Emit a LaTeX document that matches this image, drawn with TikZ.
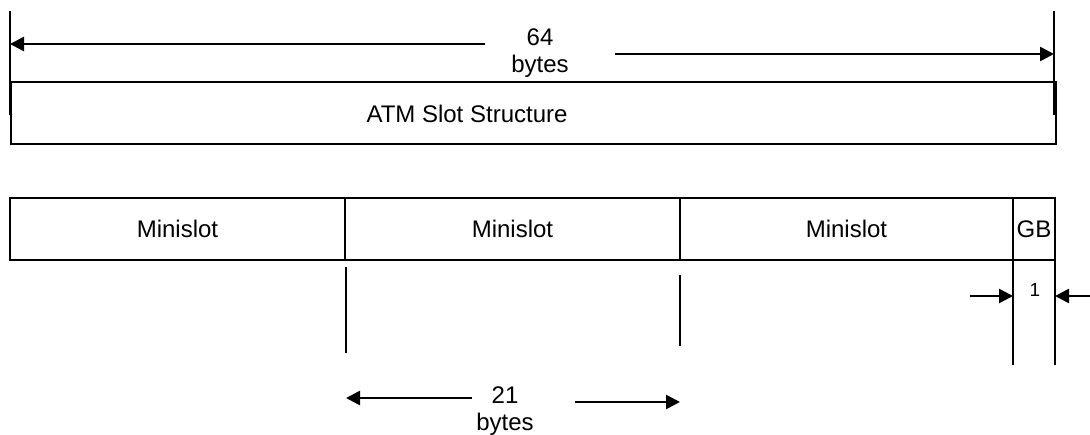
\documentclass[tikz,border=0pt]{standalone}
\usepackage{fontspec}
\setmainfont{Liberation Sans}
\usetikzlibrary{arrows.meta}

\begin{document}
\begin{tikzpicture}[
    x=1pt, y=-1pt,
    line width=2.6pt,
    font=\fontsize{24}{27}\selectfont,
    slotbox/.style={draw, minimum height=62pt, inner sep=0pt, outer sep=0pt},
    dimarrow/.style={-{Triangle[length=14pt, width=14pt]}},
    lbl/.style={inner sep=0pt, align=center}
  ]

  \useasboundingbox (0,0) rectangle (1090,434);

  % --------------------------------------------------------------------
  % ATM slot (64 bytes)
  % --------------------------------------------------------------------

  \coordinate (atmtl) at (10,11);
  \coordinate (atmbl) at (10,115);
  \coordinate (atmtr) at (1054,11);
  \coordinate (atmbr) at (1054,115);
  \draw (atmtl) -- (atmbl);
  \draw (atmtr) -- (atmbr);

  \draw (11,82) rectangle (1056,144);
  \node[lbl] (atm) at (467,114) {ATM Slot Structure};

  \node[lbl] (n64) at (540,53) {64\\bytes};
  \coordinate (a64l) at (485,44);
  \coordinate (a64r) at (615,54);
  \draw[dimarrow] (a64l) -- (a64l -| atmtl);
  \draw[dimarrow] (a64r) -- (a64r -| atmtr);

  % --------------------------------------------------------------------
  % Minislots and guard band
  % --------------------------------------------------------------------

  \node[slotbox, minimum width=335pt] (ms1) at (177.5,229) {Minislot};
  \node[slotbox, minimum width=335pt] (ms2) at (512.5,229) {Minislot};
  \node[slotbox, minimum width=333pt] (ms3) at (846.5,229) {Minislot};
  \node[slotbox, minimum width=42pt] (gb) at (1034,229) {GB};

  % --------------------------------------------------------------------
  % 21 bytes
  % --------------------------------------------------------------------

  \coordinate (m2l) at (346,267);
  \coordinate (m2lb) at (346,353);
  \coordinate (m2r) at (680,275);
  \coordinate (m2rb) at (680,346);
  \draw (m2l) -- (m2lb);
  \draw (m2r) -- (m2rb);

  \node[lbl] (n21) at (505,411) {21\\bytes};
  \coordinate (a21l) at (472,398);
  \coordinate (a21r) at (575,402);
  \draw[dimarrow] (a21l) -- (a21l -| m2l);
  \draw[dimarrow] (a21r) -- (a21r -| m2r);

  % --------------------------------------------------------------------
  % 1 byte (GB)
  % --------------------------------------------------------------------

  \coordinate (gbl) at (1013,365);
  \coordinate (gbr) at (1055,365);
  \draw (gb.south west) -- (gbl);
  \draw (gb.south east) -- (gbr);

  \node[lbl, font=\fontsize{19}{22}\selectfont] (n1) at (1035,290) {1};
  \coordinate (a1l) at (970,296);
  \coordinate (a1r) at (1090,296);
  \draw[dimarrow] (a1l) -- (a1l -| gbl);
  \draw[dimarrow] (a1r) -- (a1r -| gbr);

\end{tikzpicture}
\end{document}
